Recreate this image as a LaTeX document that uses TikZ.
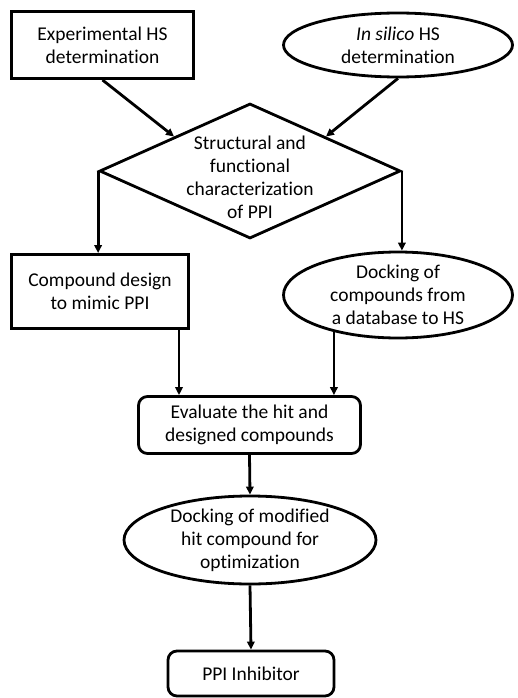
\documentclass[tikz,border=0pt]{standalone}
\usepackage{fontspec}
\setmainfont{Carlito}[Ligatures=NoCommon]
\usetikzlibrary{shapes.geometric}
\usetikzlibrary{arrows.meta}
\newcommand*{\bordw  }{2.8pt}
\newcommand*{\txtsize}{\fontsize{19.5}{23}\selectfont}

\begin{document}
\begin{tikzpicture}[x=1pt, y=-1pt, font=\txtsize,
    sqbox/.style    = {draw, rectangle, line width=3pt, align=center, inner sep=0pt},
    rbox/.style     = {draw, rectangle, rounded corners=9pt, line width=\bordw, align=center, inner sep=0pt},
    oval/.style     = {draw, ellipse, line width=\bordw, align=center, inner sep=-10pt},
    decision/.style = {draw, diamond, aspect=2.2, line width=\bordw, align=center, inner sep=-16pt},
    flow/.style     = {line width=\bordw, -{Triangle[length=8pt, width=7.5pt]}}]
    \useasboundingbox (0,0) rectangle (517,698);
        \node [sqbox, minimum width=182pt, minimum height=67pt] (exphs) at (102.5,45) {Experimental HS\\determination};
        \node [oval, minimum width=229pt, minimum height=64pt] (insilico) at (398,45) {\textit{In silico} HS\\determination};
        \node [decision, minimum width=301pt, minimum height=135pt, text height=95pt] (charac) at (250,171) {Structural and\\functional\\characterization\\of PPI};
        \node [sqbox, minimum width=177pt, minimum height=74pt] (design) at (100,291.5) {Compound design\\to mimic PPI};
        \node [oval, minimum width=229pt, minimum height=86pt] (dockdb) at (398,295) {Docking of\\compounds from\\a database to HS};
        \node [rbox, minimum width=222pt, minimum height=57pt] (evaluate) at (249.5,425) {Evaluate the hit and\\designed compounds};
        \node [oval, minimum width=252pt, minimum height=88pt] (dockmod) at (250,540) {Docking of modified\\hit compound for\\optimization};
        \node [rbox, minimum width=166pt, minimum height=45pt] (inhib) at (251,673.5) {PPI Inhibitor};
        % arrows
        \draw [flow] (exphs.south) -- (charac.north west);
        \draw [flow] (insilico.south) -- (charac.north east);
        \draw [flow] (charac.west) -- (charac.west |- design.north);
        \draw [flow] (charac.east) -- (charac.east |- dockdb.north);
        \draw [flow] ([xshift=-11pt]design.south east) -- ([xshift=-11pt]design.south east |- evaluate.north);
        \draw [flow] (dockdb.210) -- (dockdb.210 |- evaluate.north);
        \draw [flow] (evaluate.south) -- (dockmod.north);
        \draw [flow] (dockmod.south) -- (inhib.north);
    \end{tikzpicture}
\end{document}
